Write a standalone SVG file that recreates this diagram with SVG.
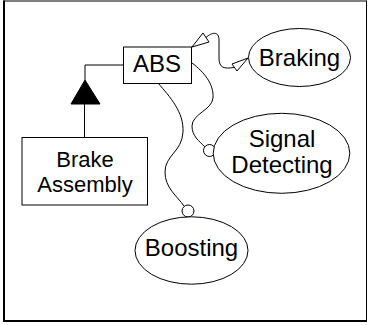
<svg xmlns="http://www.w3.org/2000/svg" width="371" height="325" viewBox="0 0 371 325">
<style>
.shape{fill:#fff;stroke:#000;stroke-width:1}
.edge{fill:none;stroke:#000;stroke-width:1}
.lbl{font-family:"Liberation Sans",Arial,sans-serif;font-size:24px;fill:#000;text-anchor:middle}
.lbl2{font-family:"Liberation Sans",Arial,sans-serif;font-size:22px;fill:#000;text-anchor:middle}
</style>
<rect x="0" y="0" width="371" height="325" fill="#fff"/>
<g id="frame">
<line x1="3.5" y1="1" x2="366.5" y2="1" stroke="#000" stroke-width="1"/>
<line x1="366.5" y1="0.5" x2="366.5" y2="322" stroke="#000" stroke-width="1"/>
<line x1="4" y1="0.5" x2="4" y2="322" stroke="#000" stroke-width="2"/>
<line x1="3" y1="321" x2="367" y2="321" stroke="#000" stroke-width="2"/>
</g>
<g id="connectors">
<polyline class="edge" points="123,65 85,65 85,80"/>
<polygon points="85,80 71,104 100,104" fill="#000" stroke="#000" stroke-width="1"/>
<line class="edge" x1="84.5" y1="104" x2="84.5" y2="137"/>
<polygon class="shape" points="192,47 203,33 209,42"/>
<path class="edge" d="M206,37.5 C212,32 219,31 219,40 L219,58 C219,68 224,69 234,67.5"/>
<polygon class="shape" points="232,64 237,71 248,58"/>
<path class="edge" d="M192,63 C204,72 214,84 213,98 C212,110 192,114 192,126 C192,136 199,141 205,147"/>
<circle class="shape" cx="209.5" cy="150.5" r="6"/>
<path class="edge" d="M158,83 C170,97 184,112 183,132 C182,152 165,155 165,172 C165,188 177,196 184,206"/>
<circle class="shape" cx="188" cy="211" r="6"/>
</g>
<g id="abs">
<rect class="shape" x="123.5" y="47" width="68" height="36.5"/>
<text class="lbl" x="157" y="71.5">ABS</text>
</g>
<g id="brake-assembly">
<rect class="shape" x="22" y="137.5" width="125.5" height="67.5"/>
<text class="lbl2" x="85" y="167">Brake</text>
<text class="lbl2" x="85" y="192">Assembly</text>
</g>
<g id="braking">
<ellipse class="shape" cx="299.5" cy="57.5" rx="51" ry="29"/>
<text class="lbl" x="299.5" y="65.5">Braking</text>
</g>
<g id="signal-detecting">
<ellipse class="shape" cx="281.5" cy="153.3" rx="68.3" ry="40"/>
<text class="lbl" x="282" y="147">Signal</text>
<text class="lbl" x="282" y="173">Detecting</text>
</g>
<g id="boosting">
<ellipse class="shape" cx="191.5" cy="250.5" rx="56.5" ry="33.7"/>
<text class="lbl" x="191.5" y="255.5">Boosting</text>
</g>
</svg>
